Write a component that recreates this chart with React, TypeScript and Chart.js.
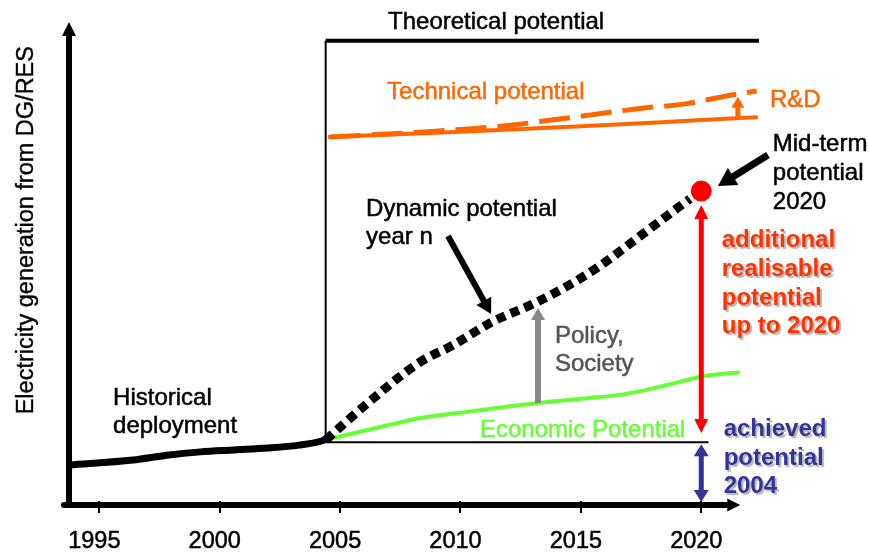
import React, { useEffect, useRef } from 'react';
import { Chart, registerables } from 'chart.js';

Chart.register(...registerables);

const FONT = '"Liberation Sans", Arial, Helvetica, sans-serif';

// x axis tick labels (years)
const tickYears = [1995, 2000, 2005, 2010, 2015, 2020];

// Historical deployment (solid thick black)
const historicalYears = [1993.74, 1996.4, 1997.8, 1999.2, 2000.6, 2002.0, 2003.3, 2004.2, 2004.4];
const historicalValues = [8.3, 9.3, 10.3, 11.0, 11.4, 11.8, 12.4, 13.2, 13.6];

// Theoretical potential
const theoreticalYears = [2004.4, 2022.4];
const theoreticalValues = [96.1, 96.1];

// Vertical boundary at the current year (2004)
const boundaryYears = [2004.4, 2004.4];
const boundaryValues = [13.6, 96.1];

// Achieved potential level in 2004 (thin horizontal)
const achievedYears = [2004.4, 2020.3];
const achievedValues = [13.0, 13.0];

// Technical potential (solid orange)
const technicalYears = [2004.5, 2010, 2015, 2020, 2022.35];
const technicalValues = [76.2, 77.3, 78.4, 79.7, 80.3];

// Technical potential with R&D (dashed orange)
const rdYears = [2004.57, 2008.3, 2011.65, 2014.1, 2017.45, 2019.4, 2021.15, 2022.3];
const rdValues = [76.2, 77.2, 78.4, 79.9, 82.1, 83.1, 84.8, 85.7];

// Dynamic potential year n (dotted black)
const dynamicYears = [2004.41, 2005.91, 2008.32, 2009.69, 2011.31, 2013.09, 2014.67, 2015.79, 2017.25, 2018.45, 2019.53];
const dynamicValues = [13.5, 20.1, 29.6, 33.1, 37.9, 41.8, 46.0, 49.5, 54.9, 59.4, 63.4];

// Economic potential (green)
const economicYears = [2004.41, 2007.07, 2008.32, 2009.98, 2013.22, 2015.04, 2016.62, 2017.87, 2019.11, 2020.15, 2021.6];
const economicValues = [13.5, 16.6, 18.0, 19.1, 21.1, 22.0, 22.8, 24.0, 25.5, 26.7, 27.5];

// Mid-term potential 2020 (red dot)
const midTermYears = [2020.0];
const midTermValues = [65.0];

const pts = (xs: number[], ys: number[]) => xs.map((x, i) => ({ x, y: ys[i] }));

type TextItem = { text: string; x: number; y: number; color: string; bold?: boolean; shadow?: boolean };

const texts: TextItem[] = [
  { text: 'Theoretical potential', x: 2006.99, y: 98.45, color: '#000000' },
  { text: 'Technical potential', x: 2006.95, y: 84.06, color: '#ff6600' },
  { text: 'R&D', x: 2022.85, y: 82.4, color: '#ff6600' },
  { text: 'Mid-term', x: 2022.97, y: 73.29, color: '#000000' },
  { text: 'potential', x: 2022.97, y: 67.29, color: '#000000' },
  { text: '2020', x: 2022.97, y: 61.28, color: '#000000' },
  { text: 'Dynamic potential', x: 2006.08, y: 59.83, color: '#000000' },
  { text: 'year n', x: 2006.08, y: 54.04, color: '#000000' },
  { text: 'Historical', x: 1995.57, y: 20.7, color: '#000000' },
  { text: 'deployment', x: 1995.57, y: 14.91, color: '#000000' },
  { text: 'Policy,', x: 2013.92, y: 33.54, color: '#555555' },
  { text: 'Society', x: 2013.92, y: 27.74, color: '#555555' },
  { text: 'Economic Potential', x: 2010.81, y: 14.08, color: '#66ff33' },
  { text: 'additional', x: 2020.85, y: 53.42, color: '#ff3300', bold: true, shadow: true },
  { text: 'realisable', x: 2020.85, y: 47.41, color: '#ff3300', bold: true, shadow: true },
  { text: 'potential', x: 2020.85, y: 41.51, color: '#ff3300', bold: true, shadow: true },
  { text: 'up to 2020', x: 2020.85, y: 35.61, color: '#ff3300', bold: true, shadow: true },
  { text: 'achieved', x: 2020.93, y: 14.29, color: '#333399', bold: true, shadow: true },
  { text: 'potential', x: 2020.93, y: 8.28, color: '#333399', bold: true, shadow: true },
  { text: '2004', x: 2020.93, y: 2.48, color: '#333399', bold: true, shadow: true },
];

const yTitle = { text: 'Electricity generation from DG/RES', x: 1992.25, y: 56.9 };

type ArrowItem = { x1: number; y1: number; x2: number; y2: number; color: string; width: number; len: number; w: number; both?: boolean };

const arrows: ArrowItem[] = [
  { x1: 2020.0, y1: 62.1, x2: 2020.0, y2: 14.9, color: '#ff0000', width: 5, len: 14, w: 14, both: true },
  { x1: 2020.0, y1: 12.6, x2: 2020.0, y2: 0.6, color: '#333399', width: 5, len: 12, w: 15, both: true },
  { x1: 2013.22, y1: 21.1, x2: 2013.22, y2: 40.8, color: '#888888', width: 6, len: 12, w: 14 },
  { x1: 2021.52, y1: 80.5, x2: 2021.52, y2: 84.5, color: '#ff6600', width: 5, len: 11, w: 13 },
  { x1: 2009.48, y1: 55.69, x2: 2011.27, y2: 39.54, color: '#000000', width: 6, len: 15, w: 17 },
  { x1: 2022.77, y1: 72.46, x2: 2020.69, y2: 66.05, color: '#000000', width: 7, len: 18, w: 20 },
];

function head(ctx: CanvasRenderingContext2D, x: number, y: number, ang: number, len: number, w: number) {
  const c = Math.cos(ang), s = Math.sin(ang);
  const bx = x - len * c, by = y - len * s;
  ctx.beginPath();
  ctx.moveTo(x, y);
  ctx.lineTo(bx - (w / 2) * s, by + (w / 2) * c);
  ctx.lineTo(bx + (w / 2) * s, by - (w / 2) * c);
  ctx.closePath();
  ctx.fill();
}

function drawArrow(ctx: CanvasRenderingContext2D, x1: number, y1: number, x2: number, y2: number, color: string, width: number, len: number, w: number, both = false) {
  const ang = Math.atan2(y2 - y1, x2 - x1);
  const c = Math.cos(ang), s = Math.sin(ang);
  ctx.save();
  ctx.strokeStyle = color;
  ctx.fillStyle = color;
  ctx.lineWidth = width;
  ctx.lineCap = 'butt';
  const sx = both ? x1 + c * len * 0.8 : x1;
  const sy = both ? y1 + s * len * 0.8 : y1;
  ctx.beginPath();
  ctx.moveTo(sx, sy);
  ctx.lineTo(x2 - c * len * 0.8, y2 - s * len * 0.8);
  ctx.stroke();
  head(ctx, x2, y2, ang, len, w);
  if (both) head(ctx, x1, y1, ang + Math.PI, len, w);
  ctx.restore();
}

const overlay = {
  id: 'overlay',
  afterDatasetsDraw(chart: any) {
    const ctx: CanvasRenderingContext2D = chart.ctx;
    const xs = chart.scales.x;
    const ys = chart.scales.y;
    const X = (v: number) => xs.getPixelForValue(v);
    const Y = (v: number) => ys.getPixelForValue(v);
    const area = chart.chartArea;

    ctx.save();
    // axes
    const ax = area.left;
    const ay = Y(0);
    const tipX = X(2021.62);
    const tipY = Y(100);
    ctx.strokeStyle = '#000';
    ctx.fillStyle = '#000';
    ctx.lineWidth = 6;
    ctx.lineCap = 'round';
    ctx.beginPath();
    ctx.moveTo(ax - 5, ay);
    ctx.lineTo(tipX - 10, ay);
    ctx.stroke();
    head(ctx, tipX, ay, 0, 13, 13);
    ctx.lineCap = 'butt';
    ctx.beginPath();
    ctx.moveTo(ax, ay + 3);
    ctx.lineTo(ax, tipY + 10);
    ctx.stroke();
    head(ctx, ax, tipY, -Math.PI / 2, 14, 14);

    // tick marks
    ctx.lineWidth = 2;
    for (const t of xs.ticks) {
      const px = Math.round(X(t.value));
      ctx.beginPath();
      ctx.moveTo(px, ay - 4);
      ctx.lineTo(px, ay + 8);
      ctx.stroke();
    }

    // arrows
    for (const a of arrows) {
      drawArrow(ctx, X(a.x1), Y(a.y1), X(a.x2), Y(a.y2), a.color, a.width, a.len, a.w, a.both);
    }

    // texts
    ctx.textBaseline = 'alphabetic';
    ctx.textAlign = 'left';
    for (const t of texts) {
      ctx.save();
      ctx.font = `${t.bold ? 'bold ' : ''}24px ${FONT}`;
      ctx.fillStyle = t.color;
      ctx.strokeStyle = t.color;
      ctx.lineWidth = 0.5;
      if (t.shadow) {
        ctx.shadowColor = 'rgba(90,90,90,0.45)';
        ctx.shadowOffsetX = 2;
        ctx.shadowOffsetY = 2;
        ctx.shadowBlur = 1;
      }
      ctx.fillText(t.text, X(t.x), Y(t.y));
      if (!t.bold) ctx.strokeText(t.text, X(t.x), Y(t.y));
      ctx.restore();
    }

    // y axis title
    ctx.save();
    ctx.translate(X(yTitle.x), Y(yTitle.y));
    ctx.rotate(-Math.PI / 2);
    ctx.textAlign = 'center';
    ctx.font = `23.5px ${FONT}`;
    ctx.fillStyle = '#000';
    ctx.strokeStyle = '#000';
    ctx.lineWidth = 0.4;
    ctx.fillText(yTitle.text, 0, 0);
    ctx.strokeText(yTitle.text, 0, 0);
    ctx.restore();

    ctx.restore();
  },
};

const lineBase = { pointRadius: 0, pointHoverRadius: 0, fill: false, borderJoinStyle: 'round' as const };

export default function App() {
  const ref = useRef<HTMLCanvasElement>(null);
  useEffect(() => {
    const chart = new Chart(ref.current as HTMLCanvasElement, {
      type: 'line',
      data: {
        datasets: [
          { ...lineBase, label: 'Mid-term potential 2020', data: pts(midTermYears, midTermValues), showLine: false, pointRadius: 10.5, pointBackgroundColor: '#ff0000', pointBorderColor: '#ff0000', borderWidth: 0 },
          { ...lineBase, label: 'Historical deployment', data: pts(historicalYears, historicalValues), borderColor: '#000', borderWidth: 7, cubicInterpolationMode: 'monotone', borderCapStyle: 'round' },
          { ...lineBase, label: 'Dynamic potential', data: pts(dynamicYears, dynamicValues), borderColor: '#000', borderWidth: 9, borderDash: [9, 6], cubicInterpolationMode: 'monotone', borderCapStyle: 'butt' },
          { ...lineBase, label: 'Economic potential', data: pts(economicYears, economicValues), borderColor: '#66ff33', borderWidth: 4, cubicInterpolationMode: 'monotone' },
          { ...lineBase, label: 'Technical potential', data: pts(technicalYears, technicalValues), borderColor: '#ff6600', borderWidth: 4, cubicInterpolationMode: 'monotone' },
          { ...lineBase, label: 'Technical potential R&D', data: pts(rdYears, rdValues), borderColor: '#ff6600', borderWidth: 5, borderDash: [31, 11], cubicInterpolationMode: 'monotone', borderCapStyle: 'butt' },
          { ...lineBase, label: 'Theoretical potential', data: pts(theoreticalYears, theoreticalValues), borderColor: '#000', borderWidth: 4, tension: 0 },
          { ...lineBase, label: 'Boundary 2004', data: pts(boundaryYears, boundaryValues), borderColor: '#000', borderWidth: 2, tension: 0 },
          { ...lineBase, label: 'Achieved 2004', data: pts(achievedYears, achievedValues), borderColor: '#000', borderWidth: 2, tension: 0 },
        ] as any,
      },
      options: {
        animation: false,
        responsive: false,
        devicePixelRatio: 1,
        layout: { padding: { left: 69, top: 22, right: 95.5, bottom: 0 } },
        plugins: { legend: { display: false }, tooltip: { enabled: false } },
        events: [],
        scales: {
          x: {
            type: 'linear',
            min: 1993.74,
            max: 2023,
            grid: { display: false },
            border: { display: false },
            ticks: {
              color: '#000',
              font: { family: FONT, size: 23.5 },
              padding: 14.5,
              labelOffset: -5,
              maxRotation: 0,
              autoSkip: false,
              textStrokeColor: '#000',
              textStrokeWidth: 0.5,
              callback: (v: any) => String(v),
            },
            afterBuildTicks: (scale: any) => {
              scale.ticks = tickYears.map((v) => ({ value: v }));
            },
            afterFit: (scale: any) => {
              scale.height = 48;
            },
          },
          y: { type: 'linear', display: false, min: 0, max: 100 },
        },
      },
      plugins: [overlay],
    } as any);
    return () => chart.destroy();
  }, []);
  return (
    <div style={{ position: 'absolute', left: 0, top: 0, width: 869, height: 553, background: '#fff' }}>
      <canvas ref={ref} width={869} height={553} style={{ display: 'block', width: 869, height: 553 }} />
    </div>
  );
}
